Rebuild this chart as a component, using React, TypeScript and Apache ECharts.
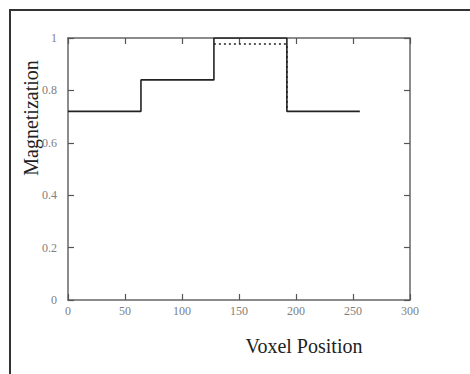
import React, { useEffect, useRef } from "react";
import * as echarts from "echarts";

const solidX = [0, 64, 64, 128, 128, 192, 192, 256];
const solidY = [0.72, 0.72, 0.84, 0.84, 1.0, 1.0, 0.72, 0.72];
const dottedX = [128, 192, 192];
const dottedY = [0.977, 0.977, 0.72];
const xTicks = [0, 50, 100, 150, 200, 250, 300];
const yTicks = [0, 0.2, 0.4, 0.6, 0.8, 1];

const FONT = "'Liberation Serif', 'Times New Roman', serif";

export default function App() {
  const ref = useRef<HTMLDivElement>(null);
  useEffect(() => {
    if (!ref.current) return;
    const chart = echarts.init(ref.current, null, { renderer: "svg" });
    const axisCommon = {
      axisLine: { show: true, onZero: false, lineStyle: { color: "#666", width: 1.5 } },
      axisTick: { show: true, inside: true, length: 6, lineStyle: { color: "#555", width: 1.2 } },
      splitLine: { show: false },
    };
    chart.setOption({
      animation: false,
      backgroundColor: "#fff",
      grid: { left: 68, top: 38, width: 342, height: 262, show: false },
      graphic: [
        {
          type: "rect",
          shape: { x: 10, y: 10, width: 480, height: 400 },
          style: { fill: "none", stroke: "#333", lineWidth: 2 },
          silent: true,
          z: -1,
        },
      ],
      xAxis: [
        {
          type: "value",
          min: xTicks[0],
          max: xTicks[xTicks.length - 1],
          interval: 50,
          position: "bottom",
          ...axisCommon,
          axisLabel: { color: "#808080", fontFamily: FONT, fontSize: 12, margin: 5 },
          name: "Voxel Position",
          nameLocation: "middle",
          nameGap: 36,
          nameMoveOverlap: false,
          nameTextStyle: { color: "#222", fontFamily: FONT, fontSize: 20, padding: [0, 0, 0, 130] },
        },
        {
          type: "value",
          min: xTicks[0],
          max: xTicks[xTicks.length - 1],
          interval: 50,
          position: "top",
          ...axisCommon,
          axisLabel: { show: false },
        },
      ],
      yAxis: [
        {
          type: "value",
          min: yTicks[0],
          max: yTicks[yTicks.length - 1],
          interval: 0.2,
          position: "left",
          ...axisCommon,
          axisLabel: {
            color: "#808080",
            fontFamily: FONT,
            fontSize: 12,
            margin: 11,
            formatter: (v: number) => String(Math.round(v * 10) / 10),
          },
          name: "Magnetization",
          nameLocation: "middle",
          nameGap: 27,
          nameMoveOverlap: false,
          nameRotate: 90,
          nameTextStyle: { color: "#222", fontFamily: FONT, fontSize: 20, padding: [0, 0, 0, 102] },
        },
        {
          type: "value",
          min: yTicks[0],
          max: yTicks[yTicks.length - 1],
          interval: 0.2,
          position: "right",
          ...axisCommon,
          axisLabel: { show: false },
        },
      ],
      series: [
        {
          type: "line",
          data: dottedX.map((x, i) => [x, dottedY[i]]),
          showSymbol: false,
          lineStyle: { color: "#222", width: 1.6, type: [2, 3] },
          z: 2,
        },
        {
          type: "line",
          data: solidX.map((x, i) => [x, solidY[i]]),
          showSymbol: false,
          lineStyle: { color: "#222", width: 1.6 },
          z: 3,
        },
      ],
    });
    return () => chart.dispose();
  }, []);
  return <div ref={ref} style={{ width: 470, height: 374, position: "absolute", left: 0, top: 0 }} />;
}
